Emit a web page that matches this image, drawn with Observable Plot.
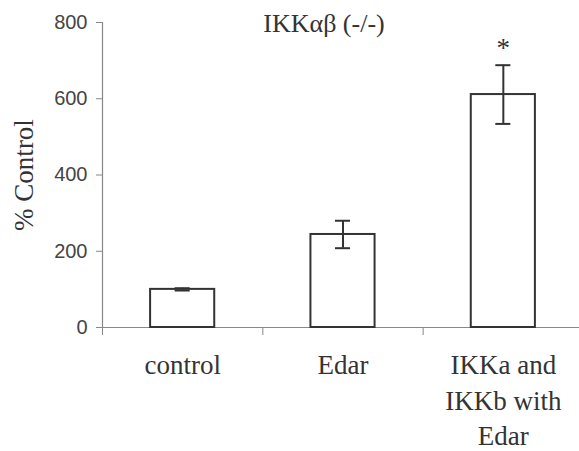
<!DOCTYPE html>
<html>
<head>
<meta charset="utf-8">
<script src="https://cdn.jsdelivr.net/npm/d3@7"></script>
<script src="https://cdn.jsdelivr.net/npm/@observablehq/plot@0.6"></script>
<style>
  html, body { margin: 0; padding: 0; background: #fff; }
</style>
</head>
<body>
<div id="chart"></div>
<script>
// Reporter activity in IKKαβ (-/-) cells, as % of control
const categories = ["control", "Edar", "IKKa and\nIKKb with\nEdar"];
const means = [100, 244, 611];
const errors = [3, 36, 77];
const significance = ["", "", "*"];
const yTicks = [0, 200, 400, 600, 800];

const rows = categories.map((name, i) => ({
  name,
  pos: i + 0.5,
  mean: means[i],
  err: errors[i],
  sig: significance[i]
}));

const barHalf = 0.2;   // half bar width, in category units
const capHalf = 0.047; // half error-cap width
const serif = "'Liberation Serif', 'Times New Roman', serif";
const sans = "'Liberation Sans', Arial, sans-serif";

const chart = Plot.plot({
  width: 579,
  height: 451,
  marginTop: 22,
  marginLeft: 102,
  marginRight: 0,
  marginBottom: 124,
  x: { domain: [0, 3], range: [102, 583] },
  y: { domain: [0, 800] },
  style: { background: "#fff", overflow: "visible" },
  marks: [
    // y axis
    Plot.axisY({
      ticks: yTicks, tickSize: 6, tickPadding: 9,
      fontSize: 20, fontFamily: sans, color: "#444", stroke: "#888", label: null
    }),
    Plot.ruleX([0], { stroke: "#888", strokeWidth: 1.2 }),
    // x baseline and category boundary ticks
    Plot.ruleY([0], { stroke: "#888", strokeWidth: 1.2 }),
    Plot.axisX({
      ticks: [0, 1, 2, 3], tickSize: 8, tickFormat: () => "", stroke: "#888", label: null
    }),
    // bars
    Plot.rectY(rows, {
      x1: d => d.pos - barHalf, x2: d => d.pos + barHalf,
      y1: 0, y2: "mean",
      fill: "#fff", stroke: "#333", strokeWidth: 2
    }),
    // error bars
    Plot.ruleX(rows, {
      x: "pos", y1: d => d.mean - d.err, y2: d => d.mean + d.err,
      stroke: "#333", strokeWidth: 2
    }),
    Plot.ruleY(rows, {
      y: d => d.mean + d.err, x1: d => d.pos - capHalf, x2: d => d.pos + capHalf,
      stroke: "#333", strokeWidth: 2
    }),
    Plot.ruleY(rows, {
      y: d => d.mean - d.err, x1: d => d.pos - capHalf, x2: d => d.pos + capHalf,
      stroke: "#333", strokeWidth: 2
    }),
    // significance marker
    Plot.text(rows.filter(d => d.sig), {
      x: "pos", y: d => d.mean + d.err, text: "sig",
      lineAnchor: "bottom", dy: -8,
      fontSize: 27, fontFamily: serif, fill: "#333"
    }),
    // category labels
    Plot.text(rows, {
      x: "pos", y: 0, text: "name",
      lineAnchor: "top", dy: 22, lineHeight: 1.3,
      fontSize: 27, fontFamily: serif, fill: "#333"
    }),
    // title
    Plot.text(["IKKαβ (-/-)"], {
      frameAnchor: "top", dx: -17, dy: -9, lineAnchor: "top",
      fontSize: 26, fontFamily: serif, fill: "#333"
    }),
    // y label, centred on the axis span
    Plot.text(["% Control"], {
      x: 0, y: 400, dx: -78, rotate: -90,
      fontSize: 27, fontFamily: serif, fill: "#333"
    })
  ]
});

document.getElementById("chart").appendChild(chart);
</script>
</body>
</html>
